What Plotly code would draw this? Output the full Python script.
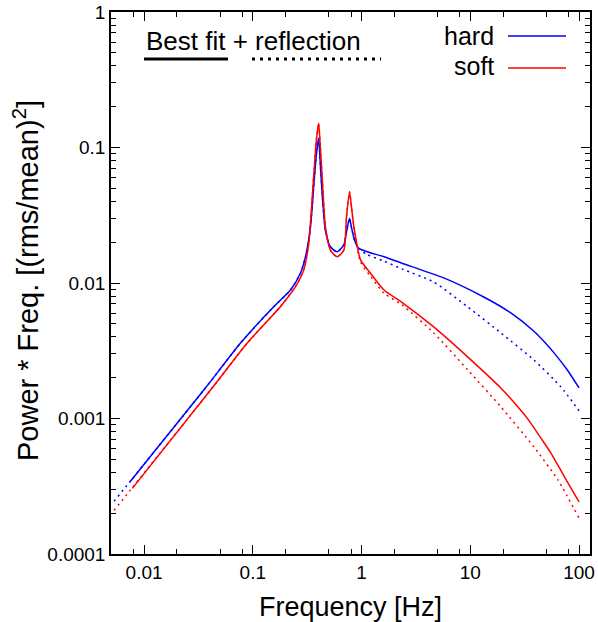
import plotly.graph_objects as go

# ---- model power spectra (frequency [Hz], power * freq [(rms/mean)^2]) ----
hard_fit_freq = [0.0074, 0.0365, 0.0768, 0.1556, 0.222, 0.274, 0.305, 0.339, 0.363, 0.385,
                 0.403, 0.418, 0.434, 0.465, 0.517, 0.597, 0.687, 0.728, 0.775, 0.81,
                 0.861, 0.944, 1.13, 1.61, 2.35, 5.7, 13.3, 23.6, 38.5, 47.9, 58.9, 78.7, 100]
hard_fit_pow = [3.4e-4, 1.67e-3, 3.59e-3, 6.68e-3, 8.87e-3, 0.0118, 0.0156, 0.026, 0.0514, 0.09,
                0.117, 0.075, 0.0462, 0.0246, 0.0185, 0.017, 0.0191, 0.0239, 0.030, 0.0255,
                0.0208, 0.018, 0.017, 0.0156, 0.014, 0.0109, 0.00788, 0.00601, 0.0044, 0.00368,
                0.00305, 0.00226, 0.00168]

hard_refl_freq = [0.0053, 0.0365, 0.0768, 0.1556, 0.222, 0.274, 0.305, 0.339, 0.363, 0.385,
                  0.403, 0.418, 0.434, 0.465, 0.517, 0.597, 0.687, 0.728, 0.775, 0.81,
                  0.861, 0.944, 1.13, 1.61, 2.35, 4.61, 9.5, 19.1, 38.5, 68.2, 100]
hard_refl_pow = [2.45e-4, 1.67e-3, 3.59e-3, 6.68e-3, 8.87e-3, 0.0118, 0.0156, 0.026, 0.0514, 0.09,
                 0.117, 0.075, 0.0462, 0.0246, 0.0185, 0.017, 0.0191, 0.0239, 0.030, 0.0255,
                 0.0208, 0.018, 0.0162, 0.0145, 0.0127, 0.01017, 0.00665, 0.00428, 0.0027, 0.00171, 0.00114]

soft_fit_freq = [0.0078, 0.0421, 0.0885, 0.179, 0.247, 0.294, 0.327, 0.363, 0.385, 0.403,
                 0.418, 0.434, 0.465, 0.517, 0.597, 0.687, 0.728, 0.775, 0.81, 0.85,
                 0.979, 1.21, 1.61, 2.35, 4.61, 9.5, 19.1, 26, 33.9, 45, 55.2, 75, 100]
soft_fit_pow = [3.05e-4, 1.67e-3, 3.59e-3, 6.68e-3, 9.4e-3, 0.0125, 0.0196, 0.0609, 0.115, 0.151,
                0.10, 0.0609, 0.026, 0.0175, 0.0156, 0.0175, 0.031, 0.0472, 0.0358, 0.026,
                0.0148, 0.0118, 0.00887, 0.0072, 0.00474, 0.00284, 0.00168, 0.00128, 9.9e-4,
                7.1e-4, 5.56e-4, 3.6e-4, 2.42e-4]

soft_refl_freq = [0.0053, 0.0421, 0.0885, 0.179, 0.247, 0.294, 0.327, 0.363, 0.385, 0.403,
                  0.418, 0.434, 0.465, 0.517, 0.597, 0.687, 0.728, 0.775, 0.81, 0.85,
                  0.979, 1.21, 1.61, 2.35, 4.61, 9.5, 19.1, 38.5, 64, 100]
soft_refl_pow = [2.1e-4, 1.67e-3, 3.59e-3, 6.68e-3, 9.4e-3, 0.0125, 0.0196, 0.0609, 0.115, 0.151,
                 0.10, 0.0609, 0.026, 0.0175, 0.0156, 0.0175, 0.031, 0.0472, 0.0358, 0.026,
                 0.0143, 0.0112, 0.0084, 0.0069, 0.00428, 0.00228, 0.00122, 6.16e-4, 3.52e-4, 1.84e-4]

x_tick_vals = [0.01, 0.1, 1, 10, 100]
x_tick_text = ["0.01", "0.1", "1", "10", "100"]
y_tick_vals = [1e-4, 1e-3, 1e-2, 1e-1, 1]
y_tick_text = ["0.0001", "0.001", "0.01", "0.1", "1"]

x_minor = [m * d for d in (0.001, 0.01, 0.1, 1, 10) for m in (2, 5, 8)]
y_minor = [m * d for d in (1e-4, 1e-3, 1e-2, 1e-1) for m in range(2, 10)]

BLUE = "#0000ff"
RED = "#ff0000"
FONT = "Liberation Sans, Arial, sans-serif"

fig = go.Figure()

# reflection models (dotted) underneath the best fits (solid)
for f, p, c in [(hard_refl_freq, hard_refl_pow, BLUE), (soft_refl_freq, soft_refl_pow, RED)]:
    fig.add_trace(go.Scatter(x=f, y=p, mode="lines", showlegend=False, hoverinfo="skip",
                             line=dict(color=c, width=1.5, dash="2px,4px", shape="spline", smoothing=0.6)))
for f, p, c, name in [(hard_fit_freq, hard_fit_pow, BLUE, "hard"), (soft_fit_freq, soft_fit_pow, RED, "soft")]:
    fig.add_trace(go.Scatter(x=f, y=p, mode="lines", name=name, showlegend=False,
                             line=dict(color=c, width=1.5, shape="spline", smoothing=0.6)))

axis_common = dict(
    type="log", showline=True, linecolor="black", linewidth=1.5, mirror="ticks",
    ticks="inside", ticklen=9, tickwidth=1, tickcolor="black", automargin=False,
    showgrid=False, zeroline=False, tickmode="array",
    tickfont=dict(family=FONT, size=19, color="black"),
)

fig.update_xaxes(**axis_common, range=[-2.304, 2.101], tickvals=x_tick_vals, ticktext=x_tick_text,
                 minor=dict(tickvals=x_minor, ticks="inside", ticklen=5, tickcolor="black", showgrid=False))
fig.update_yaxes(**axis_common, range=[-4, 0], tickvals=y_tick_vals, ticktext=y_tick_text,
                 minor=dict(tickvals=y_minor, ticks="inside", ticklen=5, tickcolor="black", showgrid=False))

L, R, T, B = 111, 590, 12, 554
W, H = 598, 622
pw, ph = R - L, B - T


def px_x(x):
    return (x - L) / pw


def px_y(y):
    return (B - y) / ph


annotations = [
    dict(text="Frequency [Hz]", x=px_x(350.5), y=px_y(607), font=dict(size=27)),
    dict(text="Power * Freq. [(rms/mean)<sup>2</sup>]", x=px_x(26), y=px_y(281),
         textangle=-90, font=dict(size=29)),
    dict(text="Best fit + reflection", x=px_x(144), y=px_y(41), xanchor="left", font=dict(size=26)),
    dict(text="hard", x=px_x(496), y=px_y(36), xanchor="right", font=dict(size=25)),
    dict(text="soft", x=px_x(496), y=px_y(66), xanchor="right", font=dict(size=25)),
]
for a in annotations:
    a.setdefault("xanchor", "center")
    a.update(xref="paper", yref="paper", yanchor="middle", showarrow=False)
    a["font"].update(family=FONT, color="black")

shapes = [
    dict(x0=px_x(144), x1=px_x(228), y0=px_y(59), y1=px_y(59), line=dict(color="black", width=3)),
    dict(x0=px_x(252), x1=px_x(381), y0=px_y(59), y1=px_y(59),
         line=dict(color="black", width=3, dash="3px,5px")),
    dict(x0=px_x(508), x1=px_x(566), y0=px_y(36), y1=px_y(36), line=dict(color=BLUE, width=1.5)),
    dict(x0=px_x(508), x1=px_x(566), y0=px_y(68), y1=px_y(68), line=dict(color=RED, width=1.5)),
]
for s in shapes:
    s.update(type="line", xref="paper", yref="paper")

fig.update_layout(
    width=W, height=H, autosize=False,
    margin=dict(l=L, r=W - R, t=T, b=H - B, pad=0),
    paper_bgcolor="white", plot_bgcolor="white",
    font=dict(family=FONT, color="black"),
    annotations=annotations, shapes=shapes, showlegend=False,
)

fig.write_html("out.html")
